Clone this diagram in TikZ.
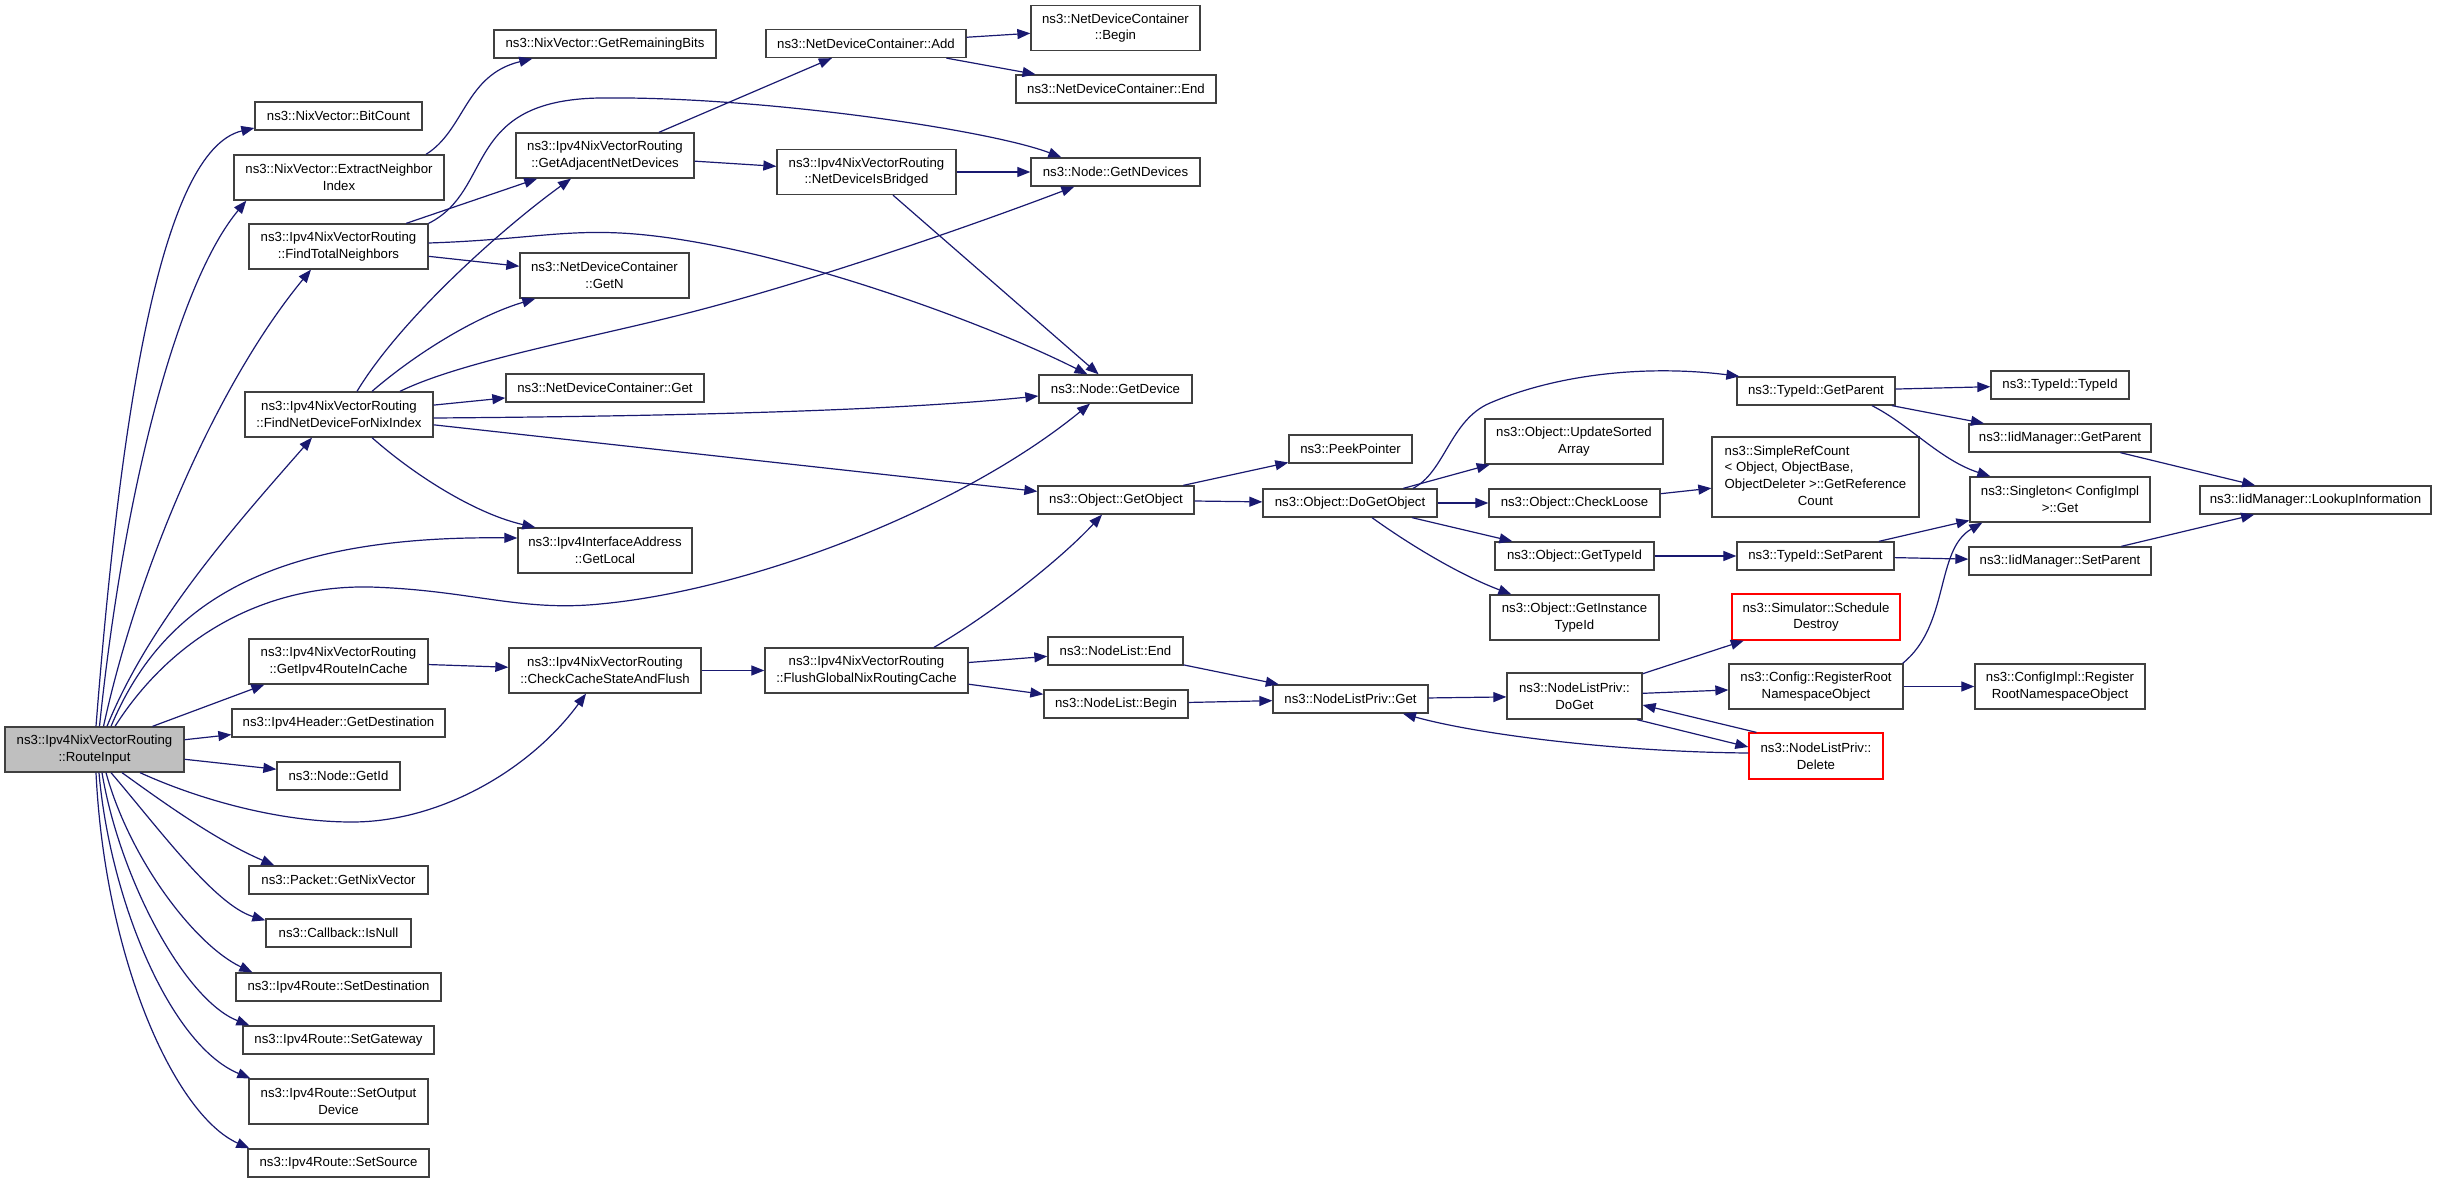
\documentclass[tikz,border=0pt]{standalone}
\usepackage{fontspec}
\setmainfont{Liberation Sans}
\usetikzlibrary{arrows.meta,calc}
\newcommand\graphfont{\fontsize{13.2}{16.7}\selectfont}
\definecolor{edgeblue}{HTML}{191970}
\definecolor{boxline}{HTML}{404040}
\definecolor{rootfill}{HTML}{BFBFBF}
\begin{document}
\begin{tikzpicture}[x=1pt,y=-1pt,
  fn/.style={draw=boxline,line width=1.3pt,fill=white,inner sep=0pt,align=center,font=\graphfont},
  rootfn/.style={fn,fill=rootfill},
  redfn/.style={fn,draw=red},
  sz/.style 2 args={minimum width=#1pt,minimum height=#2pt},
  link/.style={draw=edgeblue,line width=1.2pt,-{Triangle[length=13pt,width=10pt]}}]
\useasboundingbox (0,0) rectangle (2437,1183);
\fill[white] (0,0) rectangle (2437,1183);

% column 0/1
\node[rootfn,sz={179}{45}] (ri) at (94.5,749.5) {ns3::Ipv4NixVectorRouting\\::RouteInput};
\node[fn,sz={167}{28}] (bc) at (338.5,116) {ns3::NixVector::BitCount};
\node[fn,sz={210}{45}] (eni) at (339,177.5) {ns3::NixVector::ExtractNeighbor\\Index};
\node[fn,sz={179}{45}] (ftn) at (338.5,246.5) {ns3::Ipv4NixVectorRouting\\::FindTotalNeighbors};
\node[fn,sz={188}{45}] (fnd) at (339,414.5) {ns3::Ipv4NixVectorRouting\\::FindNetDeviceForNixIndex};
\node[fn,sz={179}{45}] (grc) at (338.5,661.5) {ns3::Ipv4NixVectorRouting\\::GetIpv4RouteInCache};
\node[fn,sz={213}{28}] (hgd) at (338.5,723) {ns3::Ipv4Header::GetDestination};
\node[fn,sz={123}{28}] (gid) at (338.5,776) {ns3::Node::GetId};
\node[fn,sz={179}{28}] (pnv) at (338.5,880) {ns3::Packet::GetNixVector};
\node[fn,sz={145}{28}] (cbn) at (338.5,933) {ns3::Callback::IsNull};
\node[fn,sz={205}{28}] (rsd) at (338.5,987) {ns3::Ipv4Route::SetDestination};
\node[fn,sz={191}{28}] (rsg) at (338.5,1040) {ns3::Ipv4Route::SetGateway};
\node[fn,sz={179}{45}] (rso) at (338.5,1101.5) {ns3::Ipv4Route::SetOutput\\Device};
\node[fn,sz={181}{28}] (rss) at (338.5,1163) {ns3::Ipv4Route::SetSource};
% column 2
\node[fn,sz={222}{28}] (grb) at (605,44) {ns3::NixVector::GetRemainingBits};
\node[fn,sz={178}{45}] (gand) at (605,155.5) {ns3::Ipv4NixVectorRouting\\::GetAdjacentNetDevices};
\node[fn,sz={169}{45}] (ndcn) at (604.5,275.5) {ns3::NetDeviceContainer\\::GetN};
\node[fn,sz={198}{28}] (ndcg) at (605,388) {ns3::NetDeviceContainer::Get};
\node[fn,sz={174}{45}] (ial) at (605,550.5) {ns3::Ipv4InterfaceAddress\\::GetLocal};
\node[fn,sz={192}{45}] (ccs) at (605,670.5) {ns3::Ipv4NixVectorRouting\\::CheckCacheStateAndFlush};
% column 3
\node[fn,sz={200}{28}] (ndca) at (866,43.5) {ns3::NetDeviceContainer::Add};
\node[fn,sz={179}{45}] (ndib) at (866.5,172) {ns3::Ipv4NixVectorRouting\\::NetDeviceIsBridged};
\node[fn,sz={203}{45}] (fgc) at (866.5,670.5) {ns3::Ipv4NixVectorRouting\\::FlushGlobalNixRoutingCache};
% column 4
\node[fn,sz={169}{45}] (ndcb) at (1115.5,28) {ns3::NetDeviceContainer\\::Begin};
\node[fn,sz={200}{28}] (ndce) at (1116,89) {ns3::NetDeviceContainer::End};
\node[fn,sz={169}{28}] (gnd) at (1115.5,172) {ns3::Node::GetNDevices};
\node[fn,sz={153}{28}] (gdev) at (1115.5,389) {ns3::Node::GetDevice};
\node[fn,sz={156}{28}] (gobj) at (1116,500) {ns3::Object::GetObject};
\node[fn,sz={135}{28}] (nle) at (1115.5,651) {ns3::NodeList::End};
\node[fn,sz={144}{28}] (nlb) at (1116,704) {ns3::NodeList::Begin};
% column 5
\node[fn,sz={123}{28}] (pp) at (1350.5,449) {ns3::PeekPointer};
\node[fn,sz={174}{28}] (dgo) at (1350,503) {ns3::Object::DoGetObject};
\node[fn,sz={155}{28}] (nlg) at (1350.5,699) {ns3::NodeListPriv::Get};
% column 6
\node[fn,sz={178}{45}] (usa) at (1574,441.5) {ns3::Object::UpdateSorted\\Array};
\node[fn,sz={171}{28}] (chl) at (1574.5,503) {ns3::Object::CheckLoose};
\node[fn,sz={159}{28}] (gti) at (1574.5,556) {ns3::Object::GetTypeId};
\node[fn,sz={169}{45}] (gii) at (1574.5,617.5) {ns3::Object::GetInstance\\TypeId};
\node[fn,sz={135}{46}] (dg) at (1574.5,696) {ns3::NodeListPriv::\\DoGet};
% column 7
\node[fn,sz={158}{28}] (tgp) at (1816,391) {ns3::TypeId::GetParent};
\node[fn,sz={207}{80}] (src) at (1815.5,477) {\begin{tabular}{@{}l@{}}ns3::SimpleRefCount\\< Object, ObjectBase,\\ObjectDeleter >::GetReference\\\multicolumn{1}{@{}c@{}}{Count}\end{tabular}};
\node[fn,sz={157}{28}] (tsp) at (1815.5,556) {ns3::TypeId::SetParent};
\node[redfn,sz={168}{46}] (ssd) at (1816,617) {ns3::Simulator::Schedule\\Destroy};
\node[fn,sz={174}{45}] (crr) at (1816,686.5) {ns3::Config::RegisterRoot\\NamespaceObject};
\node[redfn,sz={134}{46}] (del) at (1816,756) {ns3::NodeListPriv::\\Delete};
% column 8
\node[fn,sz={138}{28}] (tti) at (2060,385) {ns3::TypeId::TypeId};
\node[fn,sz={182}{28}] (igp) at (2060,438) {ns3::IidManager::GetParent};
\node[fn,sz={180}{45}] (sg) at (2060,499.5) {ns3::Singleton< ConfigImpl\\ >::Get};
\node[fn,sz={182}{28}] (isp) at (2060,561) {ns3::IidManager::SetParent};
\node[fn,sz={170}{45}] (cir) at (2060,686.5) {ns3::ConfigImpl::Register\\RootNamespaceObject};
% column 9
\node[fn,sz={231}{28}] (ili) at (2315.5,500) {ns3::IidManager::LookupInformation};

% ---- edges from RouteInput ----
\draw[link] ($(ri.north)+(1.5,0)$) .. controls (120,420) and (160,150) .. ($(bc.west)+(0,12)$);
\draw[link] ($(ri.north)+(5,0)$) .. controls (125,480) and (180,280) .. ($(eni.south west)+(13,0)$);
\draw[link] ($(ri.north)+(9,0)$) .. controls (140,560) and (220,380) .. ($(ftn.south)+(-27.5,0)$);
\draw[link] ($(ri.north)+(12.5,0)$) .. controls (150,620) and (240,520) .. ($(fnd.south)+(-27,0)$);
\draw[link] ($(ri.north)+(16.5,0)$) .. controls (160,610) and (260,535) .. ($(ial.west)+(0,-12.5)$);
\draw[link] ($(ri.north)+(20.5,0)$) .. controls (170,640) and (260,585) .. (370,587)
   .. controls (470,590) and (520,612) .. (600,604)
   .. controls (750,590) and (960,510) .. ($(gdev.south)+(-25.5,0)$);
\draw[link] ($(ri.north)+(58,0)$) -- ($(grc.south west)+(16,0)$);
\draw[link] (ri) -- (hgd);
\draw[link] (ri) -- (gid);
\draw[link] ($(ri.south)+(45.5,0)$) .. controls (200,800) and (280,822) .. (352,822)
   .. controls (440,822) and (530,770) .. ($(ccs.south)+(-19,0)$);
\draw[link] ($(ri.south)+(27.5,0)$) .. controls (160,800) and (215,840) .. ($(pnv.north west)+(26,0)$);
\draw[link] ($(ri.south)+(16.5,0)$) .. controls (160,830) and (215,905) .. ($(cbn.north west)+(0,2)$);
\draw[link] ($(ri.south)+(11.5,0)$) .. controls (130,860) and (195,945) .. ($(rsd.north west)+(17,0)$);
\draw[link] ($(ri.south)+(7.5,0)$) .. controls (120,880) and (185,1000) .. ($(rsg.north west)+(7,0)$);
\draw[link] ($(ri.south)+(4.5,0)$) .. controls (110,900) and (170,1045) .. ($(rso.north west)+(2,0)$);
\draw[link] ($(ri.south)+(1.5,0)$) .. controls (105,960) and (175,1115) .. ($(rss.north west)+(2,0)$);

% ---- column 1 ----
\draw[link] ($(eni.north)+(87,0)$) .. controls (465,130) and (465,75) .. ($(grb.south west)+(39,0)$);
\draw[link] (ftn) -- (gand);
\draw[link] (ftn.north east) .. controls (495,190) and (462,100) .. (600,98)
   .. controls (760,96) and (990,130) .. ($(gnd.north west)+(31,0)$);
\draw[link] (ftn) -- (ndcn);
\draw[link] ($(ftn.east)+(0,-3.5)$) .. controls (520,240) and (560,230) .. (620,233)
   .. controls (760,240) and (980,320) .. ($(gdev.north)+(-28,0)$);
\draw[link] ($(fnd.north)+(18,0)$) .. controls (400,320) and (500,230) .. ($(gand.south)+(-34,0)$);
\draw[link] ($(fnd.north)+(33,0)$) .. controls (420,350) and (480,315) .. ($(ndcn.south west)+(16,0)$);
\draw[link] (fnd) -- (ndcg);
\draw[link] ($(fnd.north)+(61,0)$) .. controls (460,362) and (580,340) .. (680,315)
   .. controls (800,285) and (960,230) .. ($(gnd.south west)+(44,0)$);
\draw[link] ($(fnd.east)+(0,3.5)$) .. controls (700,416) and (900,410) .. ($(gdev.west)+(0,7)$);
\draw[link] (fnd) -- (gobj);
\draw[link] ($(fnd.south)+(33,0)$) .. controls (420,480) and (480,515) .. ($(ial.north west)+(18,0)$);

% ---- column 2/3 ----
\draw[link] (gand) -- (ndib);
\draw[link] (gand) -- (ndca);
\draw[link] (ndca) -- (ndcb);
\draw[link] (ndca) -- (ndce);
\draw[link] (ndib) -- (gnd);
\draw[link] (ndib) -- (gdev);
\draw[link] (grc) -- (ccs);
\draw[link] (ccs) -- (fgc);
\draw[link] ($(fgc.north)+(67.5,0)$) .. controls (990,615) and (1060,560) .. ($(gobj.south)+(-14,0)$);
\draw[link] (fgc) -- (nle);
\draw[link] (fgc) -- (nlb);

% ---- column 4/5 ----
\draw[link] (nle) -- (nlg);
\draw[link] (nlb) -- (nlg);
\draw[link] (nlg) -- (dg);
\draw[link] (gobj) -- (pp);
\draw[link] (gobj) -- (dgo);
\draw[link] ($(dgo.north)+(63,0)$) .. controls (1445,472) and (1450,420) .. (1490,403)
   .. controls (1560,373) and (1650,365) .. ($(tgp.north west)+(3,0)$);
\draw[link] (dgo) -- (usa);
\draw[link] (dgo) -- (chl);
\draw[link] (dgo) -- (gti);
\draw[link] ($(dgo.south)+(22,0)$) .. controls (1410,545) and (1460,575) .. ($(gii.north west)+(22,0)$);

% ---- column 6/7/8 ----
\draw[link] (chl) -- (src);
\draw[link] (gti) -- (tsp);
\draw[link] (tgp) -- (tti);
\draw[link] (tgp) -- (igp);
\draw[link] ($(tgp.south)+(56,0)$) .. controls (1910,425) and (1940,460) .. ($(sg.north west)+(21,0)$);
\draw[link] (tsp) -- (sg);
\draw[link] (tsp) -- (isp);
\draw[link] (igp) -- (ili);
\draw[link] (isp) -- (ili);
\draw[link] (dg) -- (ssd);
\draw[link] (dg) -- (crr);
\draw[link] ($(dg.south)+(62.5,0)$) -- ($(del.west)+(0,-9)$);
\draw[link] ($(del.north west)+(8,0)$) -- ($(dg.east)+(0,9)$);
\draw[link] ($(del.west)+(0,-3)$) .. controls (1620,752) and (1480,735) .. ($(nlg.south)+(52.5,0)$);
\draw[link] ($(crr.north east)+(-1,0)$) .. controls (1950,625) and (1935,550) .. ($(sg.south west)+(13,0)$);
\draw[link] (crr) -- (cir);
\end{tikzpicture}
\end{document}
